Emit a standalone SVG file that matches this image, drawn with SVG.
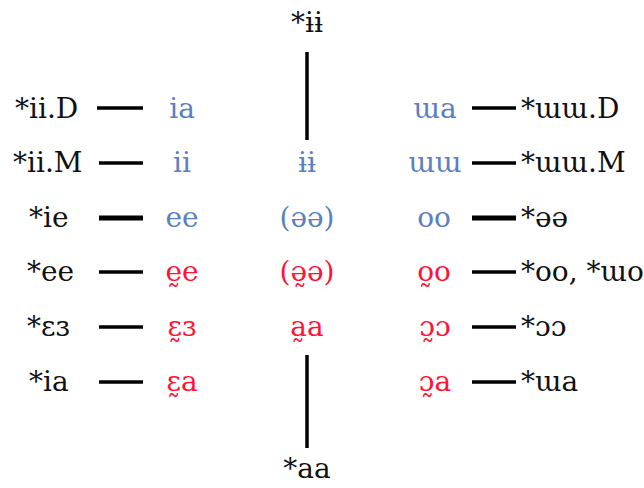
<svg xmlns="http://www.w3.org/2000/svg" width="644" height="488" viewBox="0 0 644 488">
<style>
text{font-family:"DejaVu Serif",serif;font-size:28px}
.k{fill:#111}
.b{fill:#5a80c2;text-anchor:middle}
.r{fill:#ff1438;text-anchor:middle}
.m{text-anchor:middle}
.c line{stroke:#000;stroke-width:3.5}
.c line.t{stroke-width:5}
</style>
<rect width="644" height="488" fill="#fff"/>
<g class="c" id="connectors">
<line x1="307" y1="52" x2="307" y2="140"/>
<line x1="307" y1="355" x2="307" y2="448"/>
<line x1="97" y1="108" x2="143" y2="108"/>
<line x1="99" y1="163" x2="143" y2="163"/>
<line class="t" x1="99" y1="218" x2="143" y2="218"/>
<line x1="99" y1="272" x2="143" y2="272"/>
<line x1="99" y1="327" x2="143" y2="327"/>
<line x1="99" y1="382" x2="143" y2="382"/>
<line x1="472" y1="108" x2="516" y2="108"/>
<line x1="472" y1="163" x2="516" y2="163"/>
<line class="t" x1="472" y1="218" x2="516" y2="218"/>
<line x1="472" y1="272" x2="516" y2="272"/>
<line x1="472" y1="327" x2="516" y2="327"/>
<line x1="472" y1="382" x2="516" y2="382"/>
</g>
<g id="top"><text class="k m" x="307" y="32">*ɨɨ</text></g>
<g id="bottom"><text class="k m" x="307" y="478">*aa</text></g>
<g id="l1"><text class="k" x="15" y="118">*ii.D</text></g>
<g id="l2"><text class="k" x="13" y="172">*ii.M</text></g>
<g id="l3"><text class="k" x="29" y="227">*ie</text></g>
<g id="l4"><text class="k" x="27" y="281">*ee</text></g>
<g id="l5"><text class="k" x="27" y="336">*ɛɜ</text></g>
<g id="l6"><text class="k" x="29" y="391">*ia</text></g>
<g id="c1"><text class="b" x="182" y="118">ia</text></g>
<g id="c2"><text class="b" x="182" y="172">ii</text></g>
<g id="c3"><text class="b" x="182" y="227">ee</text></g>
<g id="c4"><text class="r" x="182" y="281">ḛe</text></g>
<g id="c5"><text class="r" x="182" y="336">ɛ̰ɜ</text></g>
<g id="c6"><text class="r" x="182" y="391">ɛ̰a</text></g>
<g id="m2"><text class="b" x="307" y="172">ɨɨ</text></g>
<g id="m3"><text class="b" x="307" y="227">(əə)</text></g>
<g id="m4"><text class="r" x="307" y="281">(ə̰ə)</text></g>
<g id="m5"><text class="r" x="307" y="336">a̰a</text></g>
<g id="n1"><text class="b" x="435" y="118">ɯa</text></g>
<g id="n2"><text class="b" x="435" y="172">ɯɯ</text></g>
<g id="n3"><text class="b" x="434" y="227">oo</text></g>
<g id="n4"><text class="r" x="434" y="281">o̰o</text></g>
<g id="n5"><text class="r" x="435" y="336">ɔ̰ɔ</text></g>
<g id="n6"><text class="r" x="435" y="391">ɔ̰a</text></g>
<g id="p1"><text class="k" x="521" y="118">*ɯɯ.D</text></g>
<g id="p2"><text class="k" x="521" y="172">*ɯɯ.M</text></g>
<g id="p3"><text class="k" x="521" y="227">*əə</text></g>
<g id="p4"><text class="k" x="521" y="281">*oo, *ɯo</text></g>
<g id="p5"><text class="k" x="521" y="336">*ɔɔ</text></g>
<g id="p6"><text class="k" x="521" y="391">*ɯa</text></g>
</svg>
